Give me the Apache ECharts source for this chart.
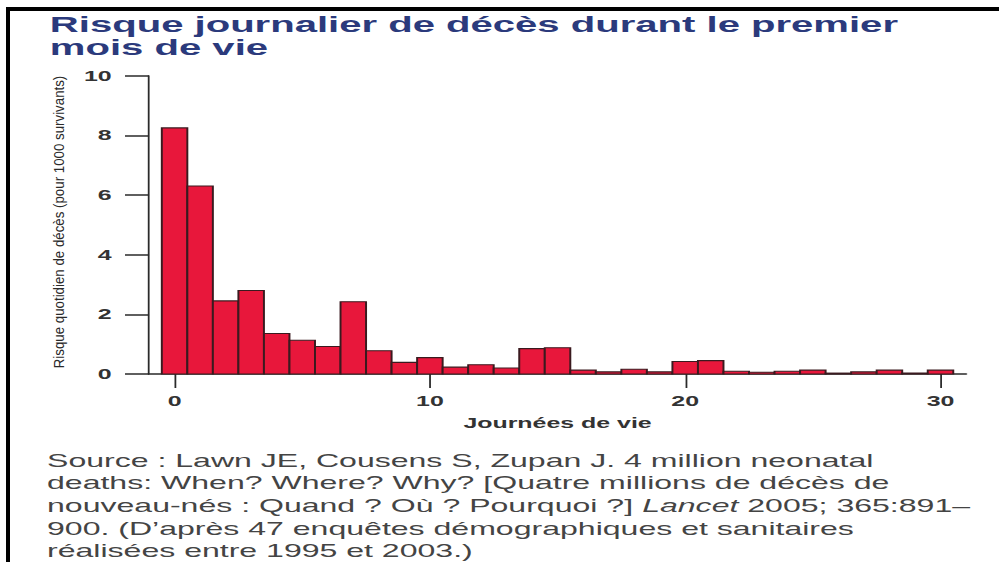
<!DOCTYPE html>
<html>
<head>
<meta charset="utf-8">
<script src="https://cdn.jsdelivr.net/npm/echarts@6/dist/echarts.min.js"></script>
<style>
  html, body { margin: 0; padding: 0; background: #fff; overflow: hidden; }
  /* the reference picture is stretched sideways, so the chart is drawn narrow and scaled */
  #chart {
    position: absolute; left: 0; top: 0;
    width: 561px; height: 562px;
    transform: scaleX(1.7807); transform-origin: 0 0;
  }
  #frame {
    position: absolute; left: 6px; top: 7px; right: -10px; bottom: -10px;
    border-top: 4px solid #000; border-left: 4px solid #000;
  }
</style>
</head>
<body>
<div id="chart"></div>
<div id="frame"></div>
<script>
// jours de vie 0..30
const days = [0, 1, 2, 3, 4, 5, 6, 7, 8, 9, 10, 11, 12, 13, 14, 15, 16, 17, 18, 19, 20,
  21, 22, 23, 24, 25, 26, 27, 28, 29, 30]
// risque quotidien de décès (pour 1000 survivants)
const risk = [8.25, 6.3, 2.45, 2.8, 1.36, 1.13, 0.92, 2.42, 0.78, 0.39, 0.55, 0.23, 0.31,
  0.2, 0.85, 0.88, 0.13, 0.07, 0.16, 0.07, 0.42, 0.45, 0.09, 0.06, 0.09, 0.13, 0.03,
  0.07, 0.13, 0.03, 0.13]
const xTicks = [0, 10, 20, 30]
const yTicks = [0, 2, 4, 6, 8, 10]

const titleText = 'Risque journalier de décès durant le premier\nmois de vie'
const yName = 'Risque quotidien de décès (pour 1000 survivants)'
const xName = 'Journées de vie'
const sourceLines = [
  'Source : Lawn JE, Cousens S, Zupan J. 4 million neonatal',
  'deaths: When? Where? Why? [Quatre millions de décès de',
  'nouveau-nés : Quand ? Où ? Pourquoi ?] {i|Lancet} 2005; 365:891–',
  '900. (D’après 47 enquêtes démographiques et sanitaires',
  'réalisées entre 1995 et 2003.)'
]

const chart = echarts.init(document.getElementById('chart'), null, { renderer: 'svg' })

const barData = days.map((d, i) => [d, risk[i]])

const option = {
  animation: false,
  textStyle: { fontFamily: 'Liberation Sans, Arial, sans-serif' },
  title: {
    text: titleText,
    left: 28,
    top: 13,
    padding: 0,
    textStyle: { fontSize: 22.5, fontWeight: 'bold', color: '#2b3a7c', lineHeight: 23 }
  },
  grid: { left: 83.7, right: 18.5, top: 75.7, bottom: 188 },
  xAxis: {
    type: 'value',
    min: -1,
    max: 31,
    name: xName,
    nameLocation: 'middle',
    nameGap: 42,
    nameTextStyle: { fontSize: 14, fontWeight: 'bold', color: '#333' },
    axisLine: { show: true, onZero: false, lineStyle: { color: '#2a2a2a', width: 1.5 } },
    axisTick: { show: true, length: 14, customValues: xTicks, lineStyle: { color: '#2a2a2a', width: 1 } },
    axisLabel: { customValues: xTicks, margin: 20, fontSize: 14, fontWeight: 'bold', color: '#333' },
    splitLine: { show: false }
  },
  yAxis: {
    type: 'value',
    min: 0,
    max: 10,
    interval: 2,
    axisLine: { show: true, onZero: false, lineStyle: { color: '#2a2a2a', width: 1 } },
    axisTick: { show: true, length: 13.5, customValues: yTicks, lineStyle: { color: '#2a2a2a', width: 1.5 } },
    axisLabel: { margin: 21, fontSize: 14, fontWeight: 'bold', color: '#333' },
    splitLine: { show: false }
  },
  graphic: [
    {
      type: 'text',
      x: 32.8,
      y: 222,
      rotation: Math.PI / 2,
      scaleY: 0.62,
      style: {
        text: yName,
        fontSize: 13.3,
        fontFamily: 'Liberation Sans, Arial, sans-serif',
        fill: '#2a2a2a',
        align: 'center',
        verticalAlign: 'middle'
      }
    },
    {
      type: 'text',
      left: 26.4,
      top: 449,
      style: {
        text: sourceLines.join('\n'),
        fontSize: 18,
        lineHeight: 22.7,
        fontFamily: 'Liberation Sans, Arial, sans-serif',
        fill: '#444',
        rich: {
          i: { fontSize: 18, fontStyle: 'italic', fill: '#444', fontFamily: 'Liberation Sans, Arial, sans-serif' }
        }
      }
    }
  ],
  series: [
    {
      type: 'custom',
      data: barData,
      encode: { x: 0, y: 1 },
      renderItem: (params, api) => {
        const d = api.value(0)
        const v = api.value(1)
        const p0 = api.coord([d - 0.5, 0])
        const p1 = api.coord([d + 0.5, v])
        return {
          type: 'rect',
          shape: { x: p0[0], y: p1[1], width: p1[0] - p0[0], height: p0[1] - p1[1] },
          style: { fill: '#e8173b', stroke: '#3a1a1f', lineWidth: 1.1 }
        }
      }
    }
  ]
}

chart.setOption(option)
</script>
</body>
</html>
